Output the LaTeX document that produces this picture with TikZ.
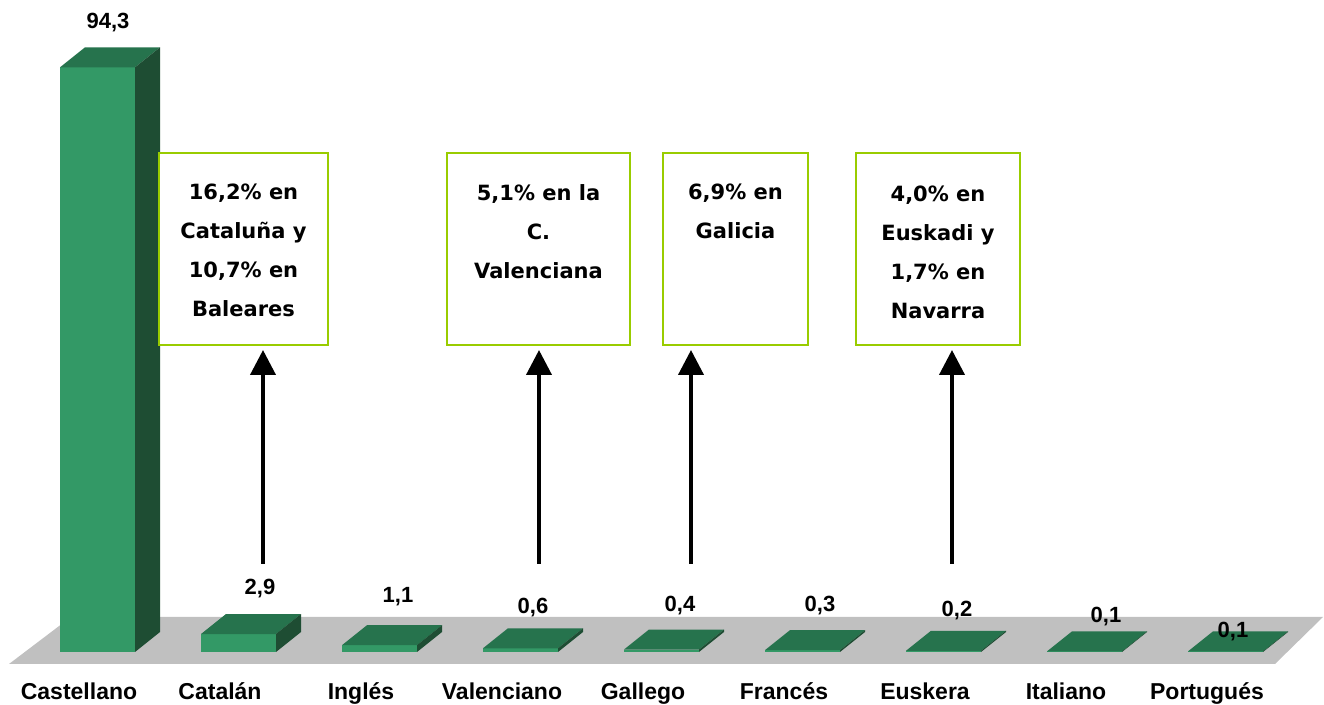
\documentclass[tikz,border=0pt]{standalone}
\usepackage{fontspec}
\setmainfont{Liberation Sans}
\newfontfamily\boxfont{DejaVu Sans}
\usetikzlibrary{arrows.meta,positioning}
\definecolor{greenfront}{RGB}{51,153,102}
\definecolor{greentop}{RGB}{38,115,77}
\definecolor{greenside}{RGB}{30,77,51}
\definecolor{floorgray}{RGB}{192,192,192}
\definecolor{boxgreen}{RGB}{153,204,0}
\tikzset{
    barfront/.style={fill=greenfront},
    bartop/.style={fill=greentop},
    barside/.style={fill=greenside},
    vallabel/.style={font=\bfseries\fontsize{11}{13}\selectfont, inner sep=0pt},
    catlabel/.style={font=\bfseries\fontsize{11.5}{13}\selectfont, inner sep=0pt, anchor=base},
    infobox/.style={draw=boxgreen, line width=1pt, fill=white, inner sep=0pt},
    boxtext/.style={font=\boxfont\bfseries\fontsize{10.5}{19.5}\selectfont, align=center, inner sep=0pt, anchor=north},
    uparrow/.style={line width=2pt, -{Triangle[width=12.5pt,length=12.5pt]}, shorten >=2pt}
}
\begin{document}
\begin{tikzpicture}[x=0.5pt,y=-0.5pt]
    \useasboundingbox (0,0) rectangle (1324,705);
    % floor
    \fill[floorgray] (9,664) -- (1275,664) -- (1323,617) -- (71,617) -- cycle;
    % bars
    \foreach \i/\v in {0/94.3, 1/2.9, 2/1.1, 3/0.6, 4/0.4, 5/0.3, 6/0.2, 7/0.1, 8/0.1} {
        \pgfmathsetmacro{\xa}{60+141*\i}
        \pgfmathsetmacro{\ya}{652-6.2*\v}
        \fill[barfront] (\xa,652) rectangle (\xa+75,\ya);
        \fill[bartop] (\xa,\ya) -- ++(25,-20) -- ++(75,0) -- ++(-25,20) -- cycle;
        \fill[barside] (\xa+75,652) -- (\xa+75,\ya) -- ++(25,-20) -- (\xa+100,632) -- cycle;
    }
    % values
    \foreach \i/\x/\y/\t in {0/108/23/{94,3}, 1/260/589/{2,9}, 2/398/597/{1,1}, 3/533/608/{0,6},
        4/680/606/{0,4}, 5/820/606/{0,3}, 6/957/611/{0,2}, 7/1106/617/{0,1}, 8/1233/632/{0,1}}
    \node[vallabel] (val\i) at (\x,\y) {\t};
    % languages
    \foreach \i/\lang in {0/Castellano, 1/Catalán, 2/Inglés, 3/Valenciano, 4/Gallego,
        5/Francés, 6/Euskera, 7/Italiano, 8/Portugués}
    \node[catlabel] (lang\i) at (79+141*\i,700) {\lang};
    % boxes
    \node[infobox, minimum width=84.5pt, minimum height=96pt] (boxcat) at (243.5,249) {};
    \node[infobox, minimum width=91.5pt, minimum height=96pt] (boxval) at (538.5,249) {};
    \node[infobox, minimum width=72.5pt, minimum height=96pt] (boxgal) at (735.5,249) {};
    \node[infobox, minimum width=82pt, minimum height=96pt] (boxeus) at (938,249) {};
    \node[boxtext] (txtcat) at ([yshift=-16pt]boxcat.north) {16,2\% en\\Cataluña y\\10,7\% en\\Baleares};
    \node[boxtext] (txtval) at ([yshift=-16pt]boxval.north) {5,1\% en la\\C.\\Valenciana};
    \node[boxtext] (txtgal) at ([yshift=-16pt]boxgal.north) {6,9\% en\\Galicia};
    \node[boxtext] (txteus) at ([yshift=-17pt]boxeus.north) {4,0\% en\\Euskadi y\\1,7\% en\\Navarra};
    % arrows
    \coordinate (tailcat) at (263,564);
    \coordinate (tailval) at (539,564);
    \coordinate (tailgal) at (691,564);
    \coordinate (taileus) at (952,564);
    \draw[uparrow] (tailcat) -- (tailcat |- boxcat.south);
    \draw[uparrow] (tailval) -- (tailval |- boxval.south);
    \draw[uparrow] (tailgal) -- (tailgal |- boxgal.south);
    \draw[uparrow] (taileus) -- (taileus |- boxeus.south);
\end{tikzpicture}
\end{document}
